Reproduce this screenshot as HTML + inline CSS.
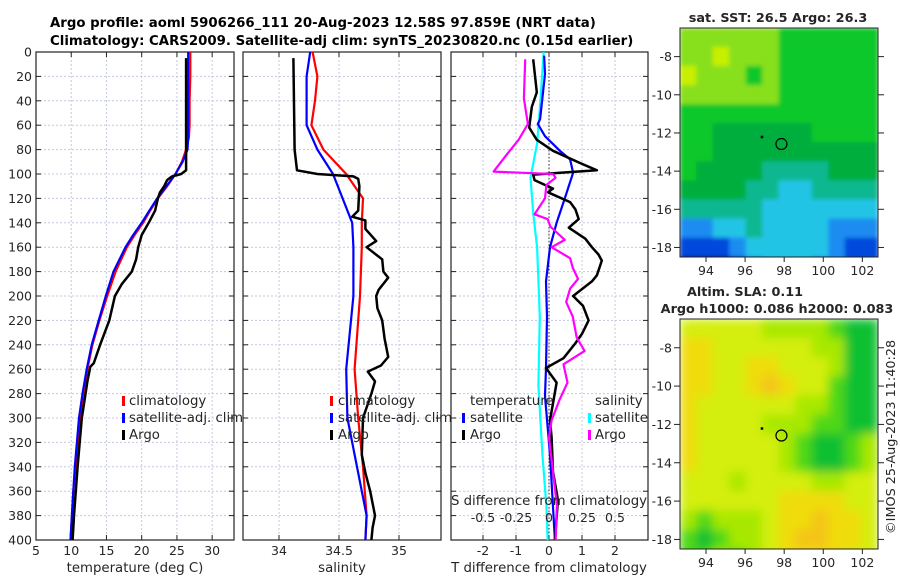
<!DOCTYPE html>
<html><head><meta charset="utf-8"><style>
body{margin:0;background:#fff;}
svg text{font-family:"DejaVu Sans","Liberation Sans",sans-serif;fill:#262626;}
.t{font-weight:bold;font-size:13.3px;fill:#000}
.tk{font-size:12.5px}
</style></head><body>
<svg id="s" width="900" height="580" viewBox="0 0 900 580" xmlns="http://www.w3.org/2000/svg">
<defs>
<clipPath id="c1"><rect x="36" y="52" width="198" height="488"/></clipPath>
<clipPath id="c2"><rect x="243" y="52" width="198" height="488"/></clipPath>
<clipPath id="c3"><rect x="451" y="52" width="197" height="488"/></clipPath>
<clipPath id="m1"><rect x="680" y="28" width="198" height="229"/></clipPath>
<clipPath id="m2"><rect x="680" y="319" width="198" height="230"/></clipPath>
<filter id="bl" x="-5%" y="-5%" width="110%" height="110%"><feGaussianBlur stdDeviation="5"/></filter>
<filter id="bs"><feGaussianBlur stdDeviation="2"/></filter>
</defs>
<text class="t" x="50" y="27">Argo profile: aoml 5906266_111 20-Aug-2023 12.58S 97.859E (NRT data)</text>
<text class="t" x="50" y="45">Climatology: CARS2009. Satellite-adj clim: synTS_20230820.nc (0.15d earlier)</text>
<g id="g"></g>
</svg>
<script>
// ---------- data ----------
const climTDepth=[0,20,40,60,70,80,90,100,110,120,130,140,150,160,180,200,220,240,260,280,300,320,340,360,380,400];
const climT=[26.9,26.9,26.8,26.8,26.7,26.3,25.7,24.8,23.6,22.3,21.2,20.2,19.0,17.9,16.3,15.1,14.0,13.0,12.3,11.7,11.2,10.9,10.6,10.3,10.1,9.9];
const satT=[26.6,26.6,26.6,26.6,26.6,26.5,25.8,24.8,23.5,22.2,21.1,20.0,18.8,17.7,16.0,14.9,13.9,12.9,12.2,11.6,11.1,10.8,10.5,10.3,10.1,9.9];
const argoTDepth=[5,97,100,102,105,110,115,120,130,140,150,160,170,180,190,200,210,220,240,255,258,270,300,340,380,400];
const argoT=[26.3,26.3,25.6,24.3,23.6,23.2,22.6,22.3,21.9,21.0,20.0,19.5,19.2,18.6,17.2,16.2,15.8,15.4,14.1,13.2,12.7,12.3,11.5,10.9,10.4,10.2];
const climSDepth=[0,20,40,60,80,100,120,140,160,200,260,300,340,380,400];
const climS=[34.28,34.32,34.30,34.27,34.37,34.56,34.70,34.69,34.69,34.675,34.63,34.66,34.70,34.73,34.72];
const satS=[34.26,34.23,34.23,34.23,34.32,34.45,34.53,34.61,34.62,34.62,34.56,34.57,34.65,34.73,34.72];
const argoSDepth=[5,80,97,100,102,104,110,130,135,138,145,155,160,170,180,185,195,200,210,220,235,240,250,257,262,270,280,300,330,345,360,380,390,400];
const argoS=[34.12,34.13,34.15,34.32,34.62,34.66,34.67,34.66,34.61,34.72,34.72,34.81,34.73,34.86,34.87,34.91,34.83,34.81,34.82,34.86,34.88,34.89,34.91,34.85,34.74,34.80,34.77,34.70,34.69,34.72,34.76,34.80,34.78,34.77];
const dTsatDepth=[3,18,55,59,69,81,88,99,120,140,160,188,217,259,282,330,400];
const dTsat=[-0.15,-0.12,-0.27,-0.34,-0.12,0.33,0.64,0.73,0.48,0.23,0.03,-0.09,-0.06,-0.09,-0.12,0.03,0.18];
const dTargoDepth=[6,33,45,62,72,81,91,97,100.5,105,112,115,123,129,137,144,153,160,166,171,183,188,200,208,220,231,239,251,259,271,288,302,316,344,367,401];
const dTargo=[-0.48,-0.37,-0.52,-0.6,-0.37,0.12,0.94,1.45,-0.48,-0.44,0.12,-0.03,0.64,0.8,0.9,0.6,1.1,1.3,1.5,1.6,1.45,1.3,0.73,1.03,1.2,1.0,0.79,0.44,-0.09,0.23,0.12,0.03,0.08,0.12,0.27,0.18];
const dSargoDepth=[6,38,59,72,84,98,100,103,109,120,133,137,143,154,160,169,177,186,194,205,217,234,245,256,271,285,302,316,344,372,401];
const dSargo=[-0.18,-0.19,-0.16,-0.23,-0.32,-0.42,0.03,0.05,-0.02,-0.03,-0.11,-0.01,0.01,0.12,0.02,0.16,0.18,0.22,0.16,0.13,0.18,0.21,0.27,0.11,0.14,0.08,0.02,0.00,0.03,0.06,0.05];
const dSsatDepth=[0,47,75,103,132,160,217,273,330,372,401];
const dSsat=[-0.04,-0.07,-0.09,-0.14,-0.12,-0.09,-0.07,-0.08,-0.05,-0.02,-0.01];
const depthTicks=[0,20,40,60,80,100,120,140,160,180,200,220,240,260,280,300,320,340,360,380,400];
const tTicks=[5,10,15,20,25,30];
const sTicks=[34,34.5,35];
const dTTicks=[-2,-1,0,1,2];
const dSTicks=["-0.5","-0.25","0","0.25","0.5"];
const lonTicks=[94,96,98,100,102];
const latTicks=[-8,-10,-12,-14,-16,-18];
const sstGrid=[
[7,7,7,7,7,7,6,6,6,6,6,6],
[7,7,8,7,7,7,6,6,6,6,6,6],
[8,7,7,7,6,7,6,6,6,6,6,6],
[7,7,7,7,7,7,6,6,6,6,6,6],
[6,6,6,6,6,6,6,6,6,6,6,6],
[6,6,5,5,5,5,5,5,6,6,6,6],
[6,6,5,5,5,5,5,5,5,5,5,5],
[6,5,5,5,5,4,4,4,4,5,5,5],
[5,5,5,5,4,4,3,3,4,4,4,4],
[4,4,4,4,4,3,3,3,3,3,3,3],
[2,2,3,3,4,3,3,3,3,2,2,2],
[1,1,1,2,3,3,3,3,3,2,1,1],
[0,0,0,1,2,3,3,3,2,2,1,1]];
const slaGrid=[
[8,8,8,8,8,7,7,7,7,6,5,5],
[9,9,8,8,8,8,8,8,7,7,5,5],
[9,9,8,8,9,9,8,8,8,7,5,5],
[9,9,8,8,9,10,9,8,8,6,5,5],
[9,8,8,8,8,8,8,7,7,6,5,5],
[9,8,8,8,8,7,7,7,6,6,5,5],
[9,8,8,8,8,8,7,6,5,5,6,7],
[9,8,8,8,8,8,7,6,5,5,6,7],
[8,8,8,7,8,8,8,8,7,7,8,8],
[8,8,8,8,8,8,9,9,9,9,8,8],
[7,6,7,7,7,8,9,9,10,9,9,8],
[6,5,6,7,7,8,9,10,10,9,9,8],
[6,6,7,6,7,8,9,9,9,9,8,8]];
const argoLon=97.86, argoLat=-12.58, prevLon=96.85, prevLat=-12.2;
// ---------- drawing ----------
const NS='http://www.w3.org/2000/svg';
const G=document.getElementById('g');
function mk(tag,at,par){const e=document.createElementNS(NS,tag);for(const k in at)e.setAttribute(k,at[k]);(par||G).appendChild(e);return e;}
const Y=d=>52+d*488/400;
function axes(x0,x1,xmin,xmax){return v=>x0+(v-xmin)*(x1-x0)/(xmax-xmin);}
const X1=axes(36,234,5,33.1), X2=axes(243,441,33.7,35.35), X3=axes(451,648,-2.97,3.0), XS=v=>549+v*132;
function panel(x0,x1,xs,ticks,labelsLeft,name){
  const g=mk('g',{});
  
  
  depthTicks.forEach(d=>{const l=mk('line',{x1:x0,x2:x1,y1:Y(d),y2:Y(d),stroke:'#c4c8e0','stroke-dasharray':'2,2','stroke-width':1},g);
    
    mk('line',{x1:x0,x2:x0+5,y1:Y(d),y2:Y(d),stroke:'#222'},g);mk('line',{x1:x1-5,x2:x1,y1:Y(d),y2:Y(d),stroke:'#222'},g);
    if(labelsLeft){const t=mk('text',{x:x0-4,y:Y(d)+4.5,'text-anchor':'end',class:'tk'},g);t.textContent=d;
      }});
  ticks.forEach(v=>{const x=xs(v);mk('line',{x1:x,x2:x,y1:52,y2:540,stroke:'#c4c8e0','stroke-dasharray':'2,2'},g);
    mk('line',{x1:x,x2:x,y1:540,y2:535,stroke:'#222'},g);mk('line',{x1:x,x2:x,y1:52,y2:57,stroke:'#222'},g);
    const t=mk('text',{x:x,y:555,'text-anchor':'middle',class:'tk'},g);t.textContent=v;
    });
  const r=mk('rect',{x:x0,y:52,width:x1-x0,height:488,fill:'none',stroke:'#222','stroke-width':1.2},g);
  
  return g;
}
function line(xs,depths,vals,color,w,clip,name){
  const p=depths.map((d,i)=>xs(vals[i]).toFixed(1)+','+Y(d).toFixed(1)).join(' ');
  const e=mk('polyline',{points:p,fill:'none',stroke:color,'stroke-width':w,'stroke-linejoin':'round','clip-path':'url(#'+clip+')'});
  
  
}
function txt(x,y,s,size,name,extra){const t=mk('text',Object.assign({x:x,y:y,'font-size':size},extra||{}));t.textContent=s;
  
  return t;}
function legMark(x,y,color,name){const r=mk('rect',{x:x,y:y-9,width:3,height:10,fill:color});
  
  }
// panel 1
panel(36,234,X1,tTicks,true,'temperature-panel');
line(X1,climTDepth,climT,'#f00',2.2,'c1','climatology-temperature-line');
line(X1,climTDepth,satT,'#00f',2.2,'c1','satellite-temperature-line');
line(X1,argoTDepth,argoT,'#000',2.5,'c1','argo-temperature-line');
txt(135,572,'temperature (deg C)',13.3,'x-axis-title-temperature',{'text-anchor':'middle'});
legMark(122,405,'#f00','legend-mark-climatology');legMark(122,422,'#00f','legend-mark-satellite');legMark(122,439,'#000','legend-mark-argo');
txt(129,405,'climatology',13.3,'legend-climatology');txt(129,422,'satellite-adj. clim',13.3,'legend-satellite');txt(129,439,'Argo',13.3,'legend-argo');
// panel 2
panel(243,441,X2,sTicks,false,'salinity-panel');
line(X2,climSDepth,climS,'#f00',2.2,'c2','climatology-salinity-line');
line(X2,climSDepth,satS,'#00f',2.2,'c2','satellite-salinity-line');
line(X2,argoSDepth,argoS,'#000',2.5,'c2','argo-salinity-line');
txt(342,572,'salinity',13.3,'x-axis-title-salinity',{'text-anchor':'middle'});
legMark(330,405,'#f00','legend-mark-climatology-2');legMark(330,422,'#00f','legend-mark-satellite-2');legMark(330,439,'#000','legend-mark-argo-2');
txt(338,405,'climatology',13.3,'legend-climatology-2');txt(338,422,'satellite-adj. clim',13.3,'legend-satellite-2');txt(338,439,'Argo',13.3,'legend-argo-2');
// panel 3
panel(451,648,X3,dTTicks,false,'difference-panel');
mk('line',{x1:549,x2:549,y1:52,y2:540,stroke:'#333','stroke-dasharray':'1.5,2'});
line(XS,dSsatDepth,dSsat,'#0ff',2.2,'c3','satellite-salinity-diff-line');
line(X3,dTsatDepth,dTsat,'#00f',2.2,'c3','satellite-temperature-diff-line');
line(X3,dTargoDepth,dTargo,'#000',2.5,'c3','argo-temperature-diff-line');
line(XS,dSargoDepth,dSargo,'#f0f',2.2,'c3','argo-salinity-diff-line');
txt(470,405,'temperature',13.3,'legend-temperature-heading');txt(470,422,'satellite',13.3,'legend-t-satellite');txt(470,439,'Argo',13.3,'legend-t-argo');
legMark(462,422,'#00f','legend-mark-t-satellite');legMark(462,439,'#000','legend-mark-t-argo');
txt(595,405,'salinity',13.3,'legend-salinity-heading');txt(595,422,'satellite',13.3,'legend-s-satellite');txt(595,439,'Argo',13.3,'legend-s-argo');
legMark(588,422,'#0ff','legend-mark-s-satellite');legMark(588,439,'#f0f','legend-mark-s-argo');
txt(549,505,'S difference from climatology',13.3,'s-axis-title',{'text-anchor':'middle'});
dSTicks.forEach(v=>txt(XS(parseFloat(v)),522,v,12.5,'s-tick-label',{'text-anchor':'middle'}));
txt(549,572,'T difference from climatology',13.3,'x-axis-title-tdiff',{'text-anchor':'middle'});
// maps
const LX=v=>680+(v-92.67)*198/(102.8-92.67);
const pal=['#0014a0','#0048dc','#1a8cf0','#22c4e6','#10b890','#00ae3c','#10c82c','#88e01c','#c8ee00','#ecea00','#f8c400'];
const slaPal=['#0014a0','#0048dc','#1a8cf0','#22c4e6','#10b890','#10c030','#50d818','#a8e800','#d4ee10','#f0dc10','#f4c418'];
function map(top,bottom,clip,grid,palette,filt,name){
  const LY=v=>top+(-6.5-v)*(bottom-top)/12;
  const g=mk('g',{'clip-path':'url(#'+clip+')'});
  
  
  const inner=mk('g',{filter:'url(#'+filt+')'},g);
  const cols=grid[0].length, cw=(LX(102.8)-LX(92.67))/cols, ch=(bottom-top)/12;
  grid.forEach((row,r)=>row.forEach((v,c)=>{
    const e=mk('rect',{x:(680+c*cw-0.3).toFixed(1),y:(top+r*ch-0.3).toFixed(1),width:(cw+0.8).toFixed(1),height:(ch+0.8).toFixed(1),fill:palette[v]},inner);
    
    
  }));
  const c=mk('circle',{cx:LX(argoLon),cy:LY(argoLat),r:5.5,fill:'none',stroke:'#000','stroke-width':1.2},g);
  
  const d=mk('rect',{x:LX(prevLon)-1,y:LY(prevLat)-1,width:2.5,height:2.5,fill:'#000'},g);
  
  mk('rect',{x:680,y:top,width:198,height:bottom-top,fill:'none',stroke:'#222','stroke-width':1});
  latTicks.forEach(v=>{const y=LY(v);mk('line',{x1:674,x2:680,y1:y,y2:y,stroke:'#222'});mk('line',{x1:878,x2:884,y1:y,y2:y,stroke:'#222'});
    txt(672,y+4.5,v,12.5,'lat-tick-label',{'text-anchor':'end'});});
  lonTicks.forEach(v=>{const x=LX(v);mk('line',{x1:x,x2:x,y1:bottom,y2:bottom+5,stroke:'#222'});
    txt(x,bottom+18,v,12.5,'lon-tick-label',{'text-anchor':'middle'});});
}
map(28,257,'m1',sstGrid,pal,'bs','sst-map');
map(319,549,'m2',slaGrid,slaPal,'bl','sla-map');
txt(778,22,'sat. SST: 26.5 Argo: 26.3',12.8,'sst-map-title',{'text-anchor':'middle','font-weight':'bold',fill:'#000'});
txt(745,296,'Altim. SLA: 0.11',12.8,'sla-map-title-1',{'text-anchor':'middle','font-weight':'bold',fill:'#000'});
txt(777,313,'Argo h1000: 0.086 h2000: 0.083',12.8,'sla-map-title-2',{'text-anchor':'middle','font-weight':'bold',fill:'#000'});
txt(0,0,'©IMOS 25-Aug-2023 11:40:28',12.8,'timestamp',{'text-anchor':'middle',transform:'translate(895,437) rotate(-90)'});
</script>
</body></html>
